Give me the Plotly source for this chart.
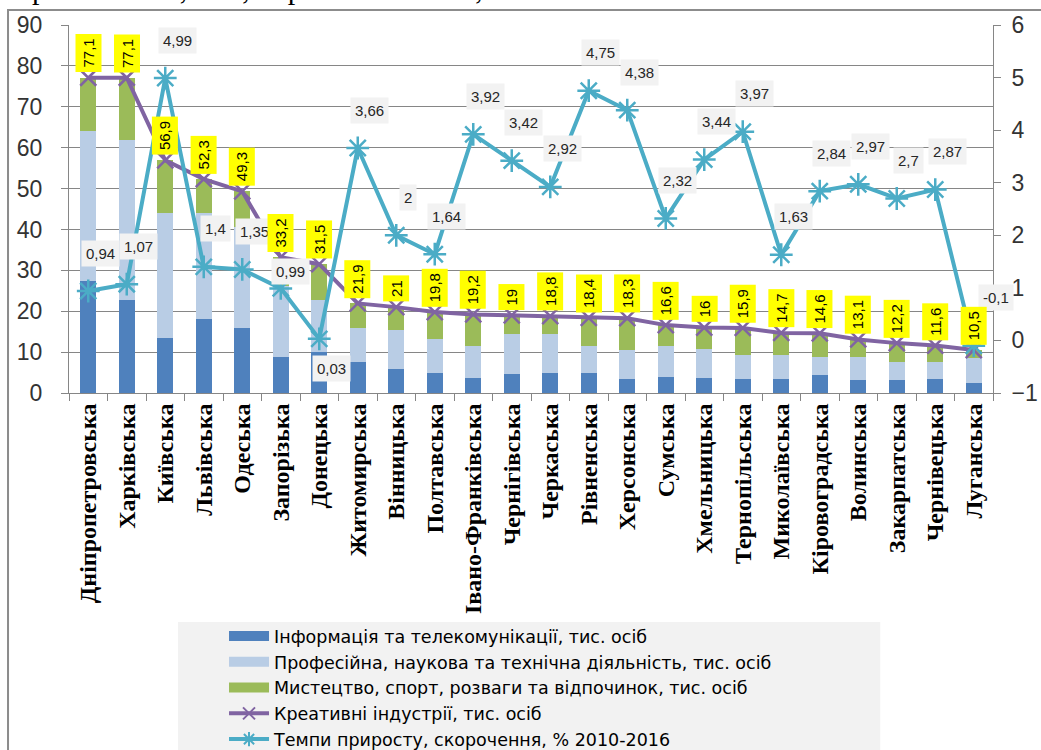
import plotly.graph_objects as go

regions = ["Дніпропетровська", "Харківська", "Київська", "Львівська", "Одеська", "Запорізька",
           "Донецька", "Житомирська", "Вінницька", "Полтавська", "Івано-Франківська", "Чернігівська",
           "Черкаська", "Рівненська", "Херсонська", "Сумська", "Хмельницька", "Тернопільська",
           "Миколаївська", "Кіровоградська", "Волинська", "Закарпатська", "Чернівецька", "Луганська"]

info_telecom = [27.3, 22.8, 13.4, 18.1, 15.9, 8.7, 10.0, 7.5, 5.9, 4.9, 3.7, 4.6,
                4.9, 4.9, 3.4, 3.9, 3.7, 3.4, 3.4, 4.3, 3.1, 3.1, 3.4, 2.4]
professional = [36.8, 39.1, 30.7, 25.9, 24.7, 17.4, 12.8, 8.4, 9.6, 8.4, 7.7, 9.8,
                9.5, 6.5, 7.2, 7.5, 7.1, 5.8, 5.8, 4.6, 5.8, 4.6, 4.3, 6.2]
arts_sport = [13.0, 15.2, 12.8, 8.3, 8.7, 7.1, 8.7, 6.0, 5.5, 6.5, 7.8, 4.6,
              4.4, 7.0, 7.7, 5.2, 5.2, 6.7, 5.5, 5.7, 4.2, 4.5, 3.9, 1.9]
creative_total = [77.1, 77.1, 56.9, 52.3, 49.3, 33.2, 31.5, 21.9, 21, 19.8, 19.2, 19,
                  18.8, 18.4, 18.3, 16.6, 16, 15.9, 14.7, 14.6, 13.1, 12.2, 11.6, 10.5]
growth_rate = [0.94, 1.07, 4.99, 1.4, 1.35, 0.99, 0.03, 3.66, 2, 1.64, 3.92, 3.42,
               2.92, 4.75, 4.38, 2.32, 3.44, 3.97, 1.63, 2.84, 2.97, 2.7, 2.87, -0.1]

series_names = [
    "Інформація та телекомунікації, тис. осіб",
    "Професійна, наукова та технічна діяльність, тис. осіб",
    "Мистецтво, спорт, розваги та відпочинок, тис. осіб",
    "Креативні індустрії, тис. осіб",
    "Темпи приросту, скорочення, % 2010-2016",
]

left_ticks = list(range(0, 91, 10))
right_ticks = list(range(-1, 7))


def fmt(v):
    return ("%g" % v).replace(".", ",")


fig = go.Figure()
bar_colors = ["#4f81bd", "#b9cde5", "#9bbb59"]
for name, vals, col in zip(series_names[:3], [info_telecom, professional, arts_sport], bar_colors):
    fig.add_trace(go.Bar(x=regions, y=vals, name=name, showlegend=False,
                         marker=dict(color=col, line=dict(width=0))))

fig.add_trace(go.Scatter(
    x=regions, y=creative_total, name=series_names[3], mode="lines+markers", showlegend=False,
    line=dict(color="#8064a2", width=4),
    marker=dict(symbol="x-thin-open", size=16, line=dict(color="#8064a2", width=2.5)),
))
fig.add_trace(go.Scatter(
    x=regions, y=growth_rate, name=series_names[4], mode="lines+markers", yaxis="y2", showlegend=False,
    line=dict(color="#4bacc6", width=4),
    marker=dict(symbol="asterisk-open", size=19, line=dict(color="#4bacc6", width=2.5)),
))

# legend-only entries (wide rectangular swatches like the original)
for name, col in zip(series_names[:3], bar_colors):
    fig.add_trace(go.Scatter(x=[None], y=[None], name=name, mode="lines",
                             line=dict(color=col, width=14)))
fig.add_trace(go.Scatter(x=[None], y=[None], name=series_names[3], mode="lines+markers",
                         line=dict(color="#8064a2", width=4),
                         marker=dict(symbol="x-thin-open", size=12, line=dict(color="#8064a2", width=2))))
fig.add_trace(go.Scatter(x=[None], y=[None], name=series_names[4], mode="lines+markers",
                         line=dict(color="#4bacc6", width=4),
                         marker=dict(symbol="asterisk-open", size=12, line=dict(color="#4bacc6", width=2))))

annotations = []
# label placement tweaks (pixel offsets) for a few crowded points
label_yshift = {"Донецька": -30, "Запорізька": 17, "Луганська": 48}
label_xshift = {"Запорізька": 10, "Луганська": 22}
for r, v in zip(regions, growth_rate):
    annotations.append(dict(
        x=r, y=v, xref="x", yref="y2", text=fmt(v), showarrow=False,
        xshift=label_xshift.get(r, 12), yshift=label_yshift.get(r, 38),
        bgcolor="#f2f2f2", borderpad=4,
        font=dict(family="Liberation Sans", size=15, color="#262626"),
    ))
for r, v in zip(regions, creative_total):
    annotations.append(dict(
        x=r, y=v, xref="x", yref="y", text=fmt(v), textangle=-90, showarrow=False,
        yanchor="bottom", yshift=5, bgcolor="#ffff00", borderpad=4,
        font=dict(family="Liberation Sans", size=15, color="#000000"),
    ))
annotations.append(dict(
    x=-0.08, y=1.048, xref="paper", yref="paper", xanchor="left", yanchor="bottom",
    text="Херсонській 4,38%, Тернопільській 3,97% області.", showarrow=False,
    font=dict(family="Liberation Serif", size=30, color="#000000"),
))

shapes = [
    dict(type="rect", xref="paper", yref="paper", x0=0.118, x1=0.878, y0=-0.622, y1=-1.1,
         fillcolor="#f2f2f2", line=dict(width=0), layer="below"),
    dict(type="rect", xref="paper", yref="paper", x0=-0.066, x1=1.2, y0=1.041, y1=-1.2,
         fillcolor="rgba(0,0,0,0)", line=dict(color="#8c8c8c", width=2), layer="below"),
]

fig.update_layout(
    width=1041, height=750,
    margin=dict(l=69, r=48, t=25, b=357, autoexpand=False),
    paper_bgcolor="#ffffff", plot_bgcolor="#ffffff",
    barmode="stack", bargap=0.58,
    showlegend=True,
    legend=dict(
        traceorder="normal", orientation="v",
        xref="container", yref="container", x=0.2152, y=0.1757, xanchor="left", yanchor="top",
        bgcolor="rgba(0,0,0,0)", itemwidth=40, tracegroupgap=0,
        font=dict(family="DejaVu Sans", size=17.5, color="#000000"),
    ),
    xaxis=dict(
        type="category", range=[-0.5, len(regions) - 0.5], tickangle=-90, showgrid=False,
        showline=True, linecolor="#868686",
        linewidth=1, ticks="outside", tickson="boundaries", ticklen=7, tickcolor="#868686",
        automargin=False,
        tickfont=dict(family="Liberation Serif", size=24, color="#000000", weight="bold"),
    ),
    yaxis=dict(
        range=[0, 90], tickvals=left_ticks, showgrid=True, gridcolor="#868686", gridwidth=1,
        showline=True, linecolor="#868686", ticks="outside", ticklen=7, tickcolor="#868686",
        zeroline=False, automargin=False, ticklabelstandoff=14,
        tickfont=dict(family="Liberation Sans", size=23, color="#333333"),
    ),
    yaxis2=dict(
        range=[-1, 6], tickvals=right_ticks, overlaying="y", side="right", showgrid=False,
        showline=True, linecolor="#868686", ticks="outside", ticklen=7, tickcolor="#868686",
        zeroline=False, automargin=False, ticklabelstandoff=6,
        tickfont=dict(family="Liberation Sans", size=23, color="#333333"),
    ),
    annotations=annotations,
    shapes=shapes,
)

fig.write_html("out.html", config={"displayModeBar": False},
               post_script="document.body.style.margin='0px';")
